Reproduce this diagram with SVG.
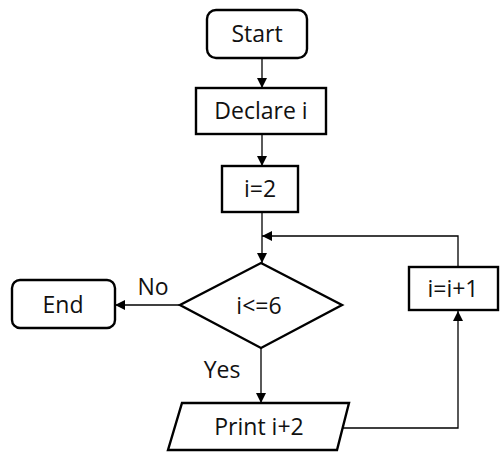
<svg xmlns="http://www.w3.org/2000/svg" width="500" height="452" viewBox="0 0 500 452">
  <style>
    .shape { fill: #ffffff; stroke: #000000; stroke-width: 2.4; }
    .edge { fill: none; stroke: #000000; stroke-width: 1.3; }
    .label { font-family: "Open Sans", "Noto Sans", "Liberation Sans", sans-serif; font-size: 23px; fill: #111111; text-anchor: middle; dominant-baseline: central; }
  </style>
  <defs>
    <marker id="arrow" viewBox="0 0 10 10" refX="10" refY="5" markerWidth="10" markerHeight="10" markerUnits="userSpaceOnUse" orient="auto">
      <path d="M0,0 L10,5 L0,10 Z" fill="#000000"/>
    </marker>
  </defs>
  <rect width="500" height="452" fill="#ffffff"/>

  <g id="connectors">
    <line class="edge" x1="262" y1="58" x2="262" y2="88" marker-end="url(#arrow)"/>
    <line class="edge" x1="262" y1="134" x2="262" y2="166" marker-end="url(#arrow)"/>
    <line class="edge" x1="262" y1="212" x2="262" y2="263" marker-end="url(#arrow)"/>
    <line class="edge" x1="180" y1="305" x2="115" y2="305" marker-end="url(#arrow)"/>
    <line class="edge" x1="261" y1="348" x2="261" y2="403" marker-end="url(#arrow)"/>
    <polyline class="edge" points="343,428 458,428 458,311" marker-end="url(#arrow)"/>
    <polyline class="edge" points="458,267 458,236 262,236" marker-end="url(#arrow)"/>
    <text class="label" x="153" y="286">No</text>
    <text class="label" x="222" y="369">Yes</text>
  </g>

  <g id="start">
    <rect class="shape" x="207" y="10" width="100" height="48" rx="9"/>
    <text class="label" x="257" y="33">Start</text>
  </g>
  <g id="declare">
    <rect class="shape" x="196" y="88" width="130" height="46"/>
    <text class="label" x="261" y="110">Declare i</text>
  </g>
  <g id="init">
    <rect class="shape" x="222" y="166" width="76" height="46"/>
    <text class="label" x="260" y="188">i=2</text>
  </g>
  <g id="condition">
    <polygon class="shape" points="261,263 342,305 261,348 180,305"/>
    <text class="label" x="259" y="305">i&lt;=6</text>
  </g>
  <g id="end">
    <rect class="shape" x="12" y="280" width="103" height="48" rx="8"/>
    <text class="label" x="63" y="304">End</text>
  </g>
  <g id="print">
    <polygon class="shape" points="182,403 349,403 337,450 168,450"/>
    <text class="label" x="259" y="426">Print i+2</text>
  </g>
  <g id="increment">
    <rect class="shape" x="409" y="267" width="89" height="43"/>
    <text class="label" x="453" y="288">i=i+1</text>
  </g>
</svg>
